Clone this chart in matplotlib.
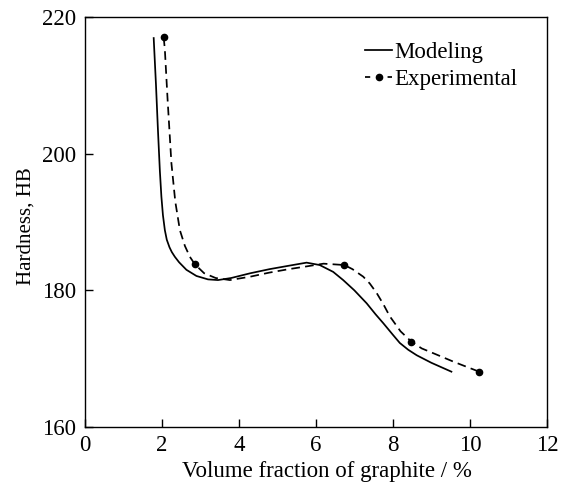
import matplotlib
matplotlib.use("Agg")
import matplotlib.pyplot as plt
from matplotlib.lines import Line2D

plt.rcParams['font.family'] = ['Liberation Serif', 'DejaVu Serif']

# Modeling curve
model_x = [1.79, 1.85, 1.90, 1.95, 1.99, 2.03, 2.08, 2.13, 2.20, 2.26, 2.34, 2.45, 2.64,
           2.90, 3.20, 3.46, 3.80, 4.30, 4.80, 5.30, 5.76, 6.10, 6.45, 6.71, 7.00,
           7.32, 7.55, 7.75, 8.00, 8.18, 8.40, 8.62, 9.00, 9.52]
model_y = [216.9, 210.0, 203.5, 197.5, 193.7, 191.0, 188.8, 187.4, 186.3, 185.6, 184.9,
           184.1, 183.0, 182.1, 181.6, 181.5, 181.8, 182.5, 183.1, 183.6, 184.05, 183.7,
           182.7, 181.5, 180.0, 178.1, 176.5, 175.2, 173.5, 172.3, 171.3, 170.5, 169.4,
           168.1]

# Experimental trend curve (dashed)
exp_curve_x = [2.05, 2.08, 2.15, 2.25, 2.35, 2.47, 2.60, 2.73, 2.86, 3.10, 3.40, 3.77,
               4.30, 4.80, 5.30, 5.76, 6.20, 6.74, 6.95, 7.23, 7.40, 7.58, 7.75, 7.92,
               8.20, 8.48, 8.75, 9.05, 9.60, 10.24]
exp_curve_y = [217.0, 215.2, 208.0, 198.6, 193.0, 188.8, 186.5, 184.9, 183.8, 182.5,
               181.8, 181.5, 182.0, 182.6, 183.1, 183.5, 183.9, 183.7, 183.1, 182.0,
               181.0, 179.6, 178.0, 176.2, 174.0, 172.5, 171.5, 170.8, 169.5, 168.1]

# Experimental measured points
exp_x = [2.05, 2.86, 6.74, 8.48, 10.24]
exp_y = [217.0, 183.8, 183.7, 172.5, 168.1]

xticks = [0, 2, 4, 6, 8, 10, 12]
yticks = [160, 180, 200, 220]

FS = 16.5

fig = plt.figure(figsize=(5.65, 4.82), dpi=100)
ax = fig.add_axes([0.150, 0.114, 0.818, 0.851])

ax.plot(model_x, model_y, color='black', lw=1.25, solid_joinstyle='round')
ax.plot(exp_curve_x, exp_curve_y, color='black', lw=1.25, ls=(0, (5, 3)))
ax.plot(exp_x, exp_y, 'o', color='black', ms=4.5)

ax.set_xlim(0, 12)
ax.set_ylim(160, 220)
ax.set_xticks(xticks)
ax.set_yticks(yticks)
ax.tick_params(direction='in', length=6, width=1, labelsize=FS, pad=6)
for s in ax.spines.values():
    s.set_linewidth(1.0)

ax.set_xlabel('Volume fraction of graphite / %', fontsize=FS)
ax.xaxis.set_label_coords(0.523, -0.082)
ax.set_ylabel('Hardness, HB', fontsize=15)
ax.yaxis.set_label_coords(-0.106, 0.491)

h_model = Line2D([0, 1], [0, 0], color='black', lw=1.25)
h_exp = Line2D([0, 0.5, 1], [0, 0, 0], color='black', lw=1.25, ls=(0, (3, 3.5)),
               marker='o', ms=4.5, markevery=[1])
leg = ax.legend([h_model, h_exp], ['Modeling', 'Experimental'], loc='upper left',
                bbox_to_anchor=(0.606, 0.94), frameon=False, fontsize=FS,
                handlelength=1.2, handletextpad=0.1, labelspacing=0.3, borderpad=0,
                borderaxespad=0)

fig.savefig('out.png', dpi=100)
